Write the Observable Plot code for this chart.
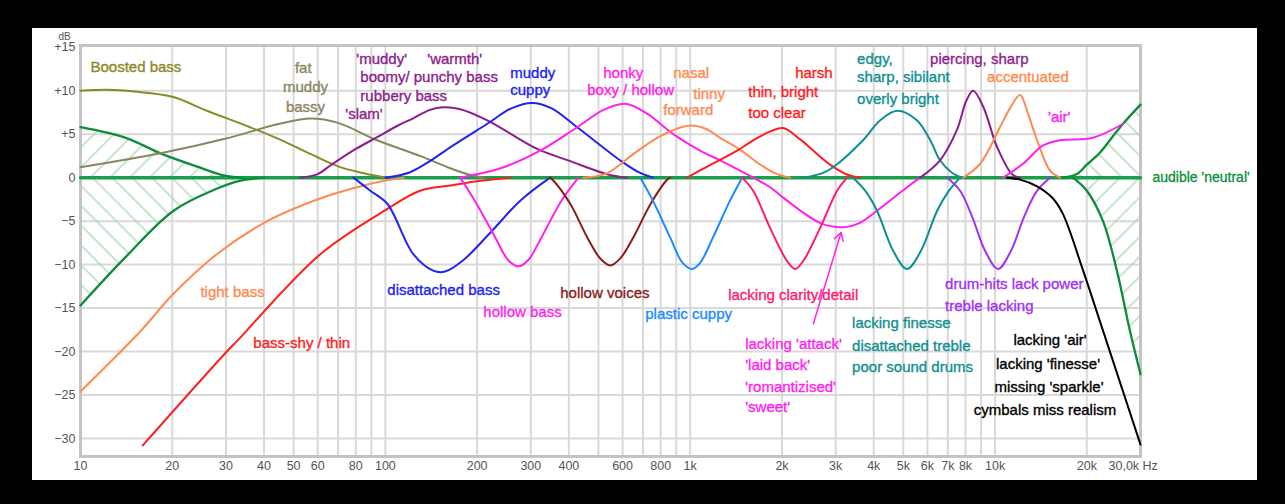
<!DOCTYPE html>
<html><head><meta charset="utf-8">
<script src="https://cdn.jsdelivr.net/npm/d3@7"></script>
<script src="https://cdn.jsdelivr.net/npm/@observablehq/plot@0.6"></script>
<style>
html,body{margin:0;padding:0;background:#000;width:1285px;height:504px;overflow:hidden;}
#panel{position:absolute;left:32px;top:28px;width:1225px;height:452px;background:#fff;}
#panel svg{overflow:visible;display:block;}
</style></head><body><div id="panel"></div>
<script>
// ---- data: [Hz, dB] points ----
const neutral = [[10,0],[30000,0]];
const neutralLowUp = [[10,5.8],[14,4.6],[18.3,2.8],[24,1.3],[30,0.2],[34,0]];
const neutralLowDown = [[10,-14.7],[14,-9.2],[20.2,-3.8],[28.1,-1.25],[33,-0.4],[40,0]];
const neutralHighUp = [[16500,0],[18500,0.4],[20000,1.5],[22100,2.9],[24400,4.8],[26300,6.2],[30000,8.4]];
const neutralHighDown = [[18000,0],[20000,-1.5],[22600,-5],[25100,-10.7],[27700,-17.6],[30000,-22.6]];
const boostedBass = [[10,10],[12.3,10.1],[15,9.9],[20,9.3],[26,7.7],[36,5.8],[45,4.4],[57,2.7],[70,1.3],[85,0.5],[100,0]];
const fatMuddy = [[10,1.2],[18.3,2.8],[30,4.5],[45,6.2],[57,6.8],[70,6.3],[94,4.3],[130,2.5],[160,1.2],[190,0.3],[210,0]];
const warmth = [[52.6,0],[60,0.4],[66,1.4],[80,3.3],[94,4.65],[110,6],[123,6.8],[140,7.8],[155,8.1],[175,7.9],[216,6.6],[315,3.3],[404,1.9],[533,0.4],[620,0]];
const muddyCuppy = [[100,0],[120,0.6],[140,1.9],[165,3.6],[216,6.2],[260,8],[303,8.6],[350,8],[426,5.8],[589,2],[680,0.6],[756,0]];
const disattachedBass = [[78.6,0],[89.3,-1.5],[101.5,-3],[123.5,-8.8],[143.6,-10.7],[157,-10.8],[180,-9.5],[224,-6.1],[277,-2.65],[347,0]];
const hollowBass = [[176,0],[196,-2.6],[228,-6.7],[253,-9.5],[273,-10.2],[294,-9.5],[327,-6.7],[379,-2.6],[430,0]];
const honkyAttack = [[176,0],[244,1.2],[322,3.1],[426,5.8],[520,7.8],[612,8.5],[720,7.4],[880,5],[1078,3.1],[1254,2],[1572,0.2],[1829,-1.1],[2018,-2.3],[2667,-5.2],[3175,-5.7],[3600,-5.2],[4100,-3.8],[5144,-1.1],[5676,0]];
const air = [[10620,0],[12350,1.6],[14370,3.7],[16330,4.3],[20960,4.6],[26300,6.2]];
const hollowVoices = [[347,0],[355,-0.3],[404,-3],[460,-6.9],[507,-9.3],[547,-10.1],[589,-9.3],[650,-6.9],[742,-3],[837,-0.3],[860,0]];
const plasticCuppy = [[686,0],[756,-2.7],[860,-6.9],[944,-9.8],[1015,-10.5],[1078,-9.8],[1187,-6.9],[1348,-2.7],[1480,0]];
const clarityDetail = [[1480,0],[1609,-1.5],[1829,-5.8],[2080,-9.6],[2209,-10.5],[2347,-9.6],[2667,-5.8],[3033,-1.5],[3272,0]];
const thinBright = [[977,0],[1100,1],[1425,3.1],[1609,4.3],[1800,5.2],[2018,5.7],[2295,4.4],[2875,1.5],[3300,0.3],[3607,0]];
const nasal = [[446,0],[533,0.5],[650,2.7],[756,4.3],[870,5.4],[1000,6],[1130,5.6],[1250,4.6],[1459,3.2],[1698,1.5],[1900,0.5],[2129,0]];
const sibilant = [[2347,0],[2700,0.5],[2943,1.2],[3690,4.3],[4200,6.6],[4771,7.7],[5540,6.6],[6130,4.3],[6600,2],[7200,0.6],[7800,0]];
const finesse = [[3423,0],[3750,-1.5],[4100,-3.8],[4630,-8.4],[5144,-10.5],[5716,-8.4],[6458,-3.8],[7063,-1.5],[7680,0]];
const piercing = [[5676,0],[6600,2],[7480,5.4],[8060,8.9],[8478,10],[9160,8.1],[10160,3.5],[11370,0.4],[12080,0]];
const drumHits = [[6962,0],[7680,-1.5],[8414,-4.5],[9272,-8.4],[10230,-10.5],[11280,-8.4],[12450,-4.5],[13740,-1.5],[15150,0]];
const accentuated = [[7860,0],[8939,1.6],[10380,5.8],[11200,8],[12080,9.5],[12820,7.4],[13740,4.3],[15150,0.8],[16330,0]];
const lackingAir = [[10950,0],[12000,-0.2],[13740,-1],[15490,-2.4],[16710,-4.2],[19450,-10.7],[22600,-17.6],[30000,-30.7]];
const tightBass = [[10,-24.6],[15.7,-17.7],[20,-13.5],[28,-8.8],[40,-5.2],[51.5,-3.4],[66,-2],[85,-0.9],[101,-0.3],[115,0]];
const bassShy = [[16,-30.8],[30.2,-20],[32.6,-18.8],[61.2,-8.8],[101.5,-3.6],[130,-1.5],[163,-0.9],[200,-0.4],[257,0]];
const attackArrow = [{from:[2535,-16.8], to:[3126,-6.3]}];

const xTicks = [10,20,30,40,50,60,80,100,200,300,400,600,800,1000,2000,3000,4000,5000,6000,7000,8000,10000,20000];
const xEndTick = [30000];
const xGrid = [20,30,40,50,60,70,80,90,100,200,300,400,500,600,700,800,900,1000,2000,3000,4000,5000,6000,7000,8000,9000,10000,20000];
const yTicks = [15,10,5,0,-5,-10,-15,-20,-25,-30];
const yGrid = [10,5,-5,-10,-15,-20,-25,-30];

const labels = [
 {t:"Boosted bass", hz:10.78, db:12.69, g:"olive"},
 {t:"'muddy'", hz:80.3, db:13.61, g:"purple"},
 {t:"boomy/ punchy bass", hz:82.8, db:11.54, g:"purple"},
 {t:"rubbery bass", hz:82.8, db:9.35, g:"purple"},
 {t:"'slam'", hz:73.9, db:7.28, g:"purple"},
 {t:"'warmth'", hz:137.3, db:13.61, g:"purple"},
 {t:"muddy", hz:256.9, db:12.0, g:"blue"},
 {t:"cuppy", hz:256.9, db:10.05, g:"blue"},
 {t:"honky", hz:518.5, db:12.0, g:"magenta"},
 {t:"boxy / hollow", hz:459.5, db:10.05, g:"magenta"},
 {t:"nasal", hz:879.8, db:12.0, g:"orange"},
 {t:"tinny", hz:1023, db:9.59, g:"orange"},
 {t:"forward", hz:815.6, db:7.75, g:"orange"},
 {t:"harsh", hz:2210, db:12.0, g:"red"},
 {t:"thin, bright", hz:1550, db:9.82, g:"red"},
 {t:"too clear", hz:1550, db:7.40, g:"red"},
 {t:"edgy,", hz:3528, db:13.61, g:"teal"},
 {t:"sharp, sibilant", hz:3528, db:11.54, g:"teal"},
 {t:"overly bright", hz:3528, db:9.01, g:"teal"},
 {t:"piercing, sharp", hz:6122, db:13.61, g:"purple"},
 {t:"accentuated", hz:9415, db:11.54, g:"orange"},
 {t:"'air'", hz:14920, db:6.94, g:"magenta"},
 {t:"tight bass", hz:24.74, db:-13.2, g:"orange"},
 {t:"bass-shy / thin", hz:36.9, db:-19.09, g:"red"},
 {t:"disattached bass", hz:101.5, db:-12.97, g:"blue"},
 {t:"hollow bass", hz:209.6, db:-15.5, g:"magenta"},
 {t:"hollow voices", hz:374.8, db:-13.32, g:"maroon"},
 {t:"plastic cuppy", hz:712.2, db:-15.73, g:"sky"},
 {t:"lacking clarity/detail", hz:1332, db:-13.54, g:"rose"},
 {t:"lacking 'attack'", hz:1515, db:-19.21, g:"magenta"},
 {t:"'laid back'", hz:1515, db:-21.62, g:"magenta"},
 {t:"'romantizised'", hz:1515, db:-24.15, g:"magenta"},
 {t:"'sweet'", hz:1515, db:-26.43, g:"magenta"},
 {t:"lacking finesse", hz:3397, db:-16.77, g:"teal"},
 {t:"disattached treble", hz:3397, db:-19.33, g:"teal"},
 {t:"poor sound drums", hz:3397, db:-21.75, g:"teal"},
 {t:"drum-hits lack power", hz:6857, db:-12.28, g:"violet"},
 {t:"treble lacking", hz:6857, db:-14.81, g:"violet"}
];
const centeredLabels = [
 {t:"fat", hz:53.8, db:12.58, g:"fat"},
 {t:"muddy", hz:54.7, db:10.39, g:"fat"},
 {t:"bassy", hz:54.7, db:8.09, g:"fat"},
 {t:"lacking 'air'", hz:15150, db:-18.75, g:"black"},
 {t:"lacking 'finesse'", hz:14920, db:-21.5, g:"black"},
 {t:"missing 'sparkle'", hz:15030, db:-24.15, g:"black"},
 {t:"cymbals miss realism", hz:14580, db:-26.78, g:"black"}
];
const neutralLabel = [{t:"audible 'neutral'", hz:30000, db:0, g:"green"}];

// ---- styles ----
const COL = {
 green:"#0b8d3a", zero:"#1b9e4c", hatch:"#a6d8b1", olive:"#8a8a26", fat:"#8a8660",
 purple:"#8d1d8d", blue:"#2323ee", magenta:"#ff22ee", orange:"#ff8a52", red:"#ff1e1e",
 maroon:"#8b1c1c", sky:"#1a8cff", rose:"#ff1a72", teal:"#0f9090", violet:"#a232f0", black:"#000"
};
const curves = [
 [boostedBass,"olive"],[fatMuddy,"fat"],[tightBass,"orange"],[bassShy,"red"],
 [warmth,"purple"],[disattachedBass,"blue"],[muddyCuppy,"blue"],[hollowBass,"magenta"],
 [honkyAttack,"magenta"],[hollowVoices,"maroon"],[nasal,"orange"],[plasticCuppy,"sky"],
 [thinBright,"red"],[clarityDetail,"rose"],[sibilant,"teal"],[finesse,"teal"],
 [piercing,"purple"],[drumHits,"violet"],[accentuated,"orange"],[air,"magenta"],[lackingAir,"black"]
];
const X = d => d[0], Y = d => d[1];
const fmtHz = d => d >= 1000 ? (d/1000) + "k" : String(d);
const fmtDb = d => d > 0 ? "+" + d : d < 0 ? "\u2212" + (-d) : "0";
const FONT = "'Liberation Sans', Arial, sans-serif";
const CURVE = "catmull-rom";

const plot = Plot.plot({
  width: 1225, height: 452,
  marginLeft: 48, marginRight: 117, marginTop: 17, marginBottom: 24,
  x: {type: "log", domain: [10, 30000], axis: null},
  y: {domain: [-32.07, 15.2], axis: null},
  color: {type: "identity"},
  style: {fontFamily: FONT, background: "white", overflow: "visible"},
  marks: [
    Plot.ruleX(xGrid, {stroke: "#d9d9d9", strokeWidth: 2}),
    Plot.ruleY(yGrid, {stroke: "#d9d9d9", strokeWidth: 2}),
    Plot.frame({stroke: "#c4c4c4", strokeWidth: 3}),
    Plot.areaY(neutralLowUp, {x: X, y1: 0, y2: Y, fill: "url(#hatchF)", curve: CURVE}),
    Plot.areaY(neutralLowDown, {x: X, y1: 0, y2: Y, fill: "url(#hatchB)", curve: CURVE}),
    Plot.areaY(neutralHighUp, {x: X, y1: 0, y2: Y, fill: "url(#hatchB)", curve: CURVE}),
    Plot.areaY(neutralHighDown, {x: X, y1: 0, y2: Y, fill: "url(#hatchF)", curve: CURVE}),
    Plot.line(neutral, {x: X, y: Y, stroke: COL.zero, strokeWidth: 3.5}),
    ...[neutralLowUp, neutralLowDown, neutralHighUp, neutralHighDown].map(c =>
      Plot.line(c, {x: X, y: Y, stroke: COL.green, strokeWidth: 2.3, curve: CURVE})),
    ...curves.map(([c, g]) =>
      Plot.line(c, {x: X, y: Y, stroke: COL[g], strokeWidth: 2, curve: CURVE})),
    Plot.arrow(attackArrow, {x1: d => d.from[0], y1: d => d.from[1], x2: d => d.to[0], y2: d => d.to[1],
      stroke: COL.magenta, strokeWidth: 1.5, headLength: 9}),
    Plot.text(labels, {x: "hz", y: "db", text: "t", textAnchor: "start", fontSize: 15,
      fill: d => COL[d.g], stroke: d => COL[d.g], strokeWidth: 0.35}),
    Plot.text(centeredLabels, {x: "hz", y: "db", text: "t", textAnchor: "middle", fontSize: 15,
      fill: d => COL[d.g], stroke: d => COL[d.g], strokeWidth: 0.35}),
    Plot.text(neutralLabel, {x: "hz", y: "db", text: "t", textAnchor: "start", dx: 12, fontSize: 14,
      fill: d => COL[d.g], stroke: d => COL[d.g], strokeWidth: 0.3}),
    Plot.text(["dB"], {x: 10, y: 15.2, text: d => d, dx: -16, dy: -9, fontSize: 10, fill: "#555"}),
    // y tick labels
    Plot.text(yTicks, {y: d => d, frameAnchor: "left", textAnchor: "end", dx: -5, text: fmtDb, fontSize: 12.5, fill: "#555"}),
    // x tick labels
    Plot.text(xTicks, {x: d => d, frameAnchor: "bottom", dy: 13, text: fmtHz, fontSize: 12.5, fill: "#555"}),
    Plot.text(xEndTick, {x: d => d, frameAnchor: "bottom", dy: 13, dx: -32, textAnchor: "start", text: () => "30,0k Hz", fontSize: 12.5, fill: "#555"})
  ]
});
d3.select(plot).insert("defs", ":first-child").html(
  `<pattern id="hatchF" width="14" height="14" patternUnits="userSpaceOnUse" patternTransform="rotate(45)"><line x1="7" y1="0" x2="7" y2="14" stroke="${COL.hatch}" stroke-width="1.3"/></pattern>` +
  `<pattern id="hatchB" width="14" height="14" patternUnits="userSpaceOnUse" patternTransform="rotate(-45)"><line x1="7" y1="0" x2="7" y2="14" stroke="${COL.hatch}" stroke-width="1.3"/></pattern>`
);
document.getElementById("panel").appendChild(plot);
</script>
</body></html>
